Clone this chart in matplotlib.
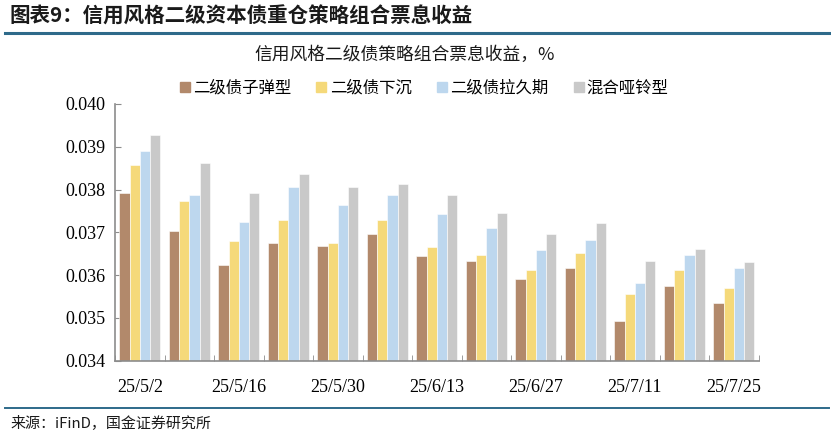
import matplotlib
matplotlib.use("Agg")
import matplotlib.pyplot as plt
from matplotlib.lines import Line2D
import numpy as np

plt.rcParams['font.family'] = ['Noto Sans CJK SC', 'DejaVu Sans']

dates = ["25/5/2", "25/5/9", "25/5/16", "25/5/23", "25/5/30", "25/6/6", "25/6/13",
         "25/6/20", "25/6/27", "25/7/4", "25/7/11", "25/7/18", "25/7/25"]
series_names = ["二级债子弹型", "二级债下沉", "二级债拉久期", "混合哑铃型"]
bullet = [0.03791, 0.03703, 0.03623, 0.03675, 0.03668, 0.03696, 0.03644,
          0.03633, 0.03591, 0.03616, 0.03493, 0.03574, 0.03535]
sink = [0.03858, 0.03773, 0.03679, 0.03728, 0.03675, 0.03728, 0.03665,
        0.03647, 0.03612, 0.03651, 0.03556, 0.03612, 0.03570]
duration = [0.03889, 0.03787, 0.03724, 0.03805, 0.03763, 0.03787, 0.03742,
            0.03710, 0.03658, 0.03682, 0.03581, 0.03647, 0.03616]
barbell = [0.03928, 0.03861, 0.03791, 0.03836, 0.03805, 0.03812, 0.03787,
           0.03745, 0.03696, 0.03721, 0.03633, 0.03661, 0.03630]
y_ticks = [0.034, 0.035, 0.036, 0.037, 0.038, 0.039, 0.040]

colors = ["#B2896B", "#F5D97A", "#BDD7EE", "#C9C9C9"]
all_series = [bullet, sink, duration, barbell]

fig = plt.figure(figsize=(8.31, 4.36), dpi=100)
ax = fig.add_axes([0.1384, 0.1727, 0.913 - 0.1384, 0.7615 - 0.1727])

x = np.arange(len(dates))
w = 0.207
for i, (vals, c, name) in enumerate(zip(all_series, colors, series_names)):
    ax.bar(x + (i - 1.5) * w, vals, width=w, color=c, edgecolor="white",
           linewidth=0.4, label=name, zorder=2)

ax.set_xlim(-0.5, len(dates) - 0.5)
ax.set_ylim(0.034, 0.040)
ax.set_yticks(y_ticks)
ax.set_yticklabels([f"{v:.3f}" for v in y_ticks], family="Liberation Serif", fontsize=13)

ax.set_xticks(x[::2])
ax.set_xticklabels(dates[::2], family="Liberation Serif", fontsize=13)
ax.tick_params(axis="x", which="major", length=0, pad=13)
ax.set_xticks(np.arange(-0.5, len(dates), 1.0), minor=True)
ax.tick_params(axis="x", which="minor", direction="in", length=4, color="#8c8c8c")
ax.tick_params(axis="y", direction="in", length=4, color="#8c8c8c", pad=7)

for s in ["top", "right"]:
    ax.spines[s].set_visible(False)
for s in ["left", "bottom"]:
    ax.spines[s].set_color("#8c8c8c")
    ax.spines[s].set_linewidth(1.2)

handles = [Line2D([0], [0], marker="s", linestyle="none", markersize=6.5,
                  markerfacecolor=c, markeredgecolor=c) for c in colors]
fig.legend(handles, series_names, loc="center", bbox_to_anchor=(0.51, 0.798),
           ncol=4, frameon=False, fontsize=11.8, handletextpad=0.15,
           columnspacing=1.5, handlelength=0.7)

fig.text(0.487, 0.874, "信用风格二级债策略组合票息收益，%", ha="center", va="center",
         fontsize=12.8, fontweight="medium", color="#1a1a1a")

fig.text(0.012, 0.962, "图表9：信用风格二级资本债重仓策略组合票息收益", ha="left", va="center",
         fontsize=14.8, fontweight="bold", color="#1a1a1a")
fig.add_artist(Line2D([0.006, 0.997], [0.924, 0.924], transform=fig.transFigure,
                      color="#2e6a8a", linewidth=2.2))
fig.add_artist(Line2D([0.006, 0.997], [0.064, 0.064], transform=fig.transFigure,
                      color="#2e6a8a", linewidth=1.4))
fig.text(0.012, 0.030, "来源：iFinD，国金证券研究所", ha="left", va="center",
         fontsize=10.8, color="#1a1a1a")

fig.savefig("out.png", dpi=100)
